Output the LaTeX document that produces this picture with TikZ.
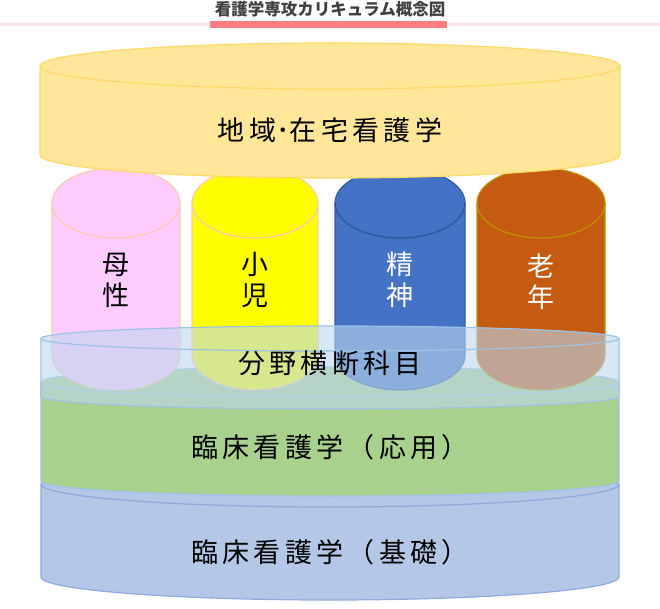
\documentclass[tikz,border=0pt]{standalone}
\usepackage{fontspec}
\setmainfont{Noto Sans CJK JP}
\usetikzlibrary{positioning}

\definecolor{discfill}{HTML}{FFE699}
\definecolor{discline}{HTML}{FFD966}
\definecolor{pinkfill}{HTML}{FFCCFF}
\definecolor{pinkline}{HTML}{F8CBAD}
\definecolor{yelfill}{HTML}{FFFF00}
\definecolor{bluefill}{HTML}{4472C4}
\definecolor{blueline}{HTML}{2F5597}
\definecolor{orgfill}{HTML}{C55A11}
\definecolor{orgline}{HTML}{BF9000}
\definecolor{glassfill}{HTML}{BDD7EE}
\definecolor{glassline}{HTML}{9DC3E6}
\definecolor{greenfill}{HTML}{A9D18E}
\definecolor{kisofill}{HTML}{B4C7E7}
\definecolor{kisoline}{HTML}{8FAADC}
\definecolor{titlegray}{HTML}{404040}
\definecolor{titlebar}{HTML}{FF7C80}
\definecolor{titlerule}{HTML}{FCE4EC}

\tikzstyle{layer} = [inner sep=0pt, text=black, font=\fontsize{27}{31}\selectfont\addfontfeature{LetterSpace=16}]
\tikzstyle{pillarlabel} = [layer, align=center]
\tikzstyle{rim} = [line width=1.2pt]

% drum: style, cx, top cy, bottom cy, rx, ry, style of the front rim
\newcommand{\drum}[7]{%
  \path[#1] (#2-#5,#3) -- (#2-#5,#4)
    arc[start angle=180, end angle=0, x radius=#5, y radius=#6]
    -- (#2+#5,#3)
    arc[start angle=0, end angle=-180, x radius=#5, y radius=#6] -- cycle;
  \draw[#7] (#2+#5,#3) arc[start angle=0, end angle=180, x radius=#5, y radius=#6];}

\begin{document}
\begin{tikzpicture}[x=1pt, y=-1pt]
  \useasboundingbox (0,0) rectangle (660,609);

  % Title
  \fill[titlerule] (0,23) rectangle (660,26);
  \node (title) [inner sep=0pt, text=titlegray, font=\fontsize{16.5}{18}\selectfont\bfseries] at (330,9) {看護学専攻カリキュラム概念図};
  \fill[titlebar] (210,21) rectangle (447,28);

  % Base layers
  \drum{fill=kisofill, draw=kisoline, rim}{330}{484}{577}{289}{23}{kisoline, rim}
  \drum{fill=greenfill, draw=glassline, rim}{330}{382}{481}{289}{15}{glassline, rim}

  % Pillars
  \drum{fill=pinkfill, draw=pinkline, rim}{116}{203}{355}{64}{35}{pinkline, rim}
  \drum{fill=yelfill, draw=pinkline, rim}{255}{203}{355}{63}{35}{pinkline, rim}
  \drum{fill=bluefill, draw=blueline!80!bluefill, rim}{400}{203}{355}{65}{35}{blueline, rim}
  \drum{fill=orgfill, draw=orgline, rim}{541}{203}{355}{64}{35}{orgline, rim}

  \node (bosei) [pillarlabel] at (116,280) {母\\性};
  \node (shouni) [pillarlabel] at (255,280) {小\\児};
  \node (seishin) [pillarlabel, text=white] at (400,280) {精\\神};
  \node (rounen) [pillarlabel, text=white] at (541,282) {老\\年};

  % Top disc
  \drum{fill=discfill, draw=discline, rim}{330}{66}{155}{290}{23}{discline, rim}

  % Glass layer
  \drum{fill=glassfill, fill opacity=.6, draw=glassline, rim}{330}{338.5}{396.5}{289}{12.5}{glassline, rim}

  % Layer labels
  \node (chiiki) [layer] at (330,130) {地域{\addfontfeature{LetterSpace=0}･}在宅看護学};
  \node (bunya) [layer] at (330,363) {分野横断科目};
  \node (ouyou) [layer] at (330,447) {臨床看護学（応用）};
  \node (kiso) [layer] at (330,552) {臨床看護学（基礎）};
\end{tikzpicture}
\end{document}
